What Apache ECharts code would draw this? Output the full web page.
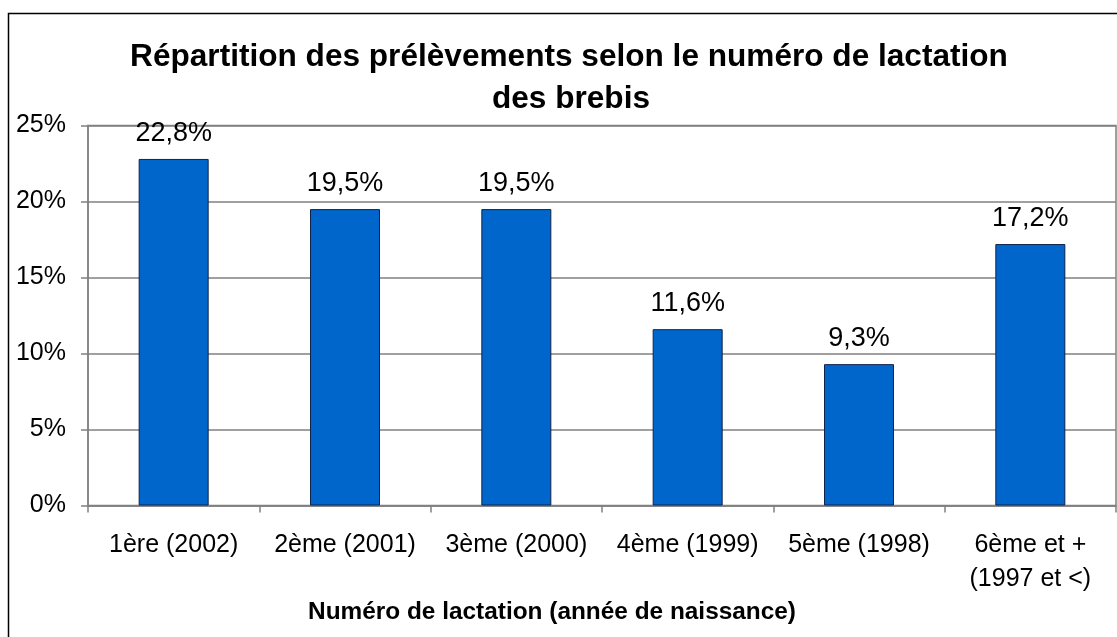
<!DOCTYPE html>
<html>
<head>
<meta charset="utf-8">
<script src="https://cdn.jsdelivr.net/npm/echarts@6/dist/echarts.min.js"></script>
<style>
    html, body { margin: 0; padding: 0; background: #fff; }
    #chart { width: 1117px; height: 637px; }
</style>
</head>
<body>
<div id="chart"></div>
<script>
'use strict';
var categories = ['1ère (2002)', '2ème (2001)', '3ème (2000)', '4ème (1999)', '5ème (1998)', '6ème et +\n(1997 et <)'];
var values = [22.8, 19.5, 19.5, 11.6, 9.3, 17.2];
var yTicks = [0, 5, 10, 15, 20, 25];

var font = 'Liberation Sans, Arial, sans-serif';
var myChart = echarts.init(document.getElementById('chart'));

var option = {
    backgroundColor: '#fff',
    animation: false,
    textStyle: { fontFamily: font, color: '#000' },
    grid: {
        left: 88,
        right: 1,
        top: 125.5,
        bottom: 131.5,
        show: true,
        borderColor: '#808080',
        borderWidth: 1.5,
        containLabel: false
    },
    graphic: [
        {
            type: 'rect',
            shape: { x: 8.5, y: 13.5, width: 1200, height: 700 },
            style: { fill: null, stroke: '#000', lineWidth: 1.5 },
            silent: true
        },
        {
            type: 'text',
            x: 569, y: 57,
            style: {
                text: 'Répartition des prélèvements selon le numéro de lactation',
                font: 'bold 31.6px ' + font,
                fill: '#000', align: 'center', verticalAlign: 'middle'
            }
        },
        {
            type: 'text',
            x: 571, y: 99,
            style: {
                text: 'des brebis',
                font: 'bold 31.6px ' + font,
                fill: '#000', align: 'center', verticalAlign: 'middle'
            }
        },
        {
            type: 'text',
            x: 552, y: 612,
            style: {
                text: 'Numéro de lactation (année de naissance)',
                font: 'bold 24.4px ' + font,
                fill: '#000', align: 'center', verticalAlign: 'middle'
            }
        }
    ],
    xAxis: {
        type: 'category',
        data: categories,
        boundaryGap: true,
        axisLine: { lineStyle: { color: '#808080', width: 1.5 } },
        axisTick: { show: true, length: 7, inside: false, lineStyle: { color: '#808080', width: 1.5 } },
        axisLabel: {
            interval: 0,
            margin: 23,
            fontSize: 25,
            lineHeight: 34,
            color: '#000',
            fontFamily: font
        }
    },
    yAxis: {
        type: 'value',
        min: 0,
        max: 25,
        interval: 5,
        axisLine: { show: true, lineStyle: { color: '#808080', width: 1.5 } },
        axisTick: { show: true, length: 7, inside: false, lineStyle: { color: '#808080', width: 1.5 } },
        splitLine: { show: true, lineStyle: { color: '#808080', width: 1.5 } },
        axisLabel: {
            margin: 22,
            fontSize: 25,
            color: '#000',
            fontFamily: font,
            formatter: function (v) { return v + '%'; }
        }
    },
    series: [
        {
            type: 'bar',
            data: values,
            barWidth: 70,
            itemStyle: {
                color: '#0066CC',
                borderColor: '#10224a',
                borderWidth: 1
            },
            label: {
                show: true,
                position: 'top',
                distance: 12,
                fontSize: 27,
                color: '#000',
                fontFamily: font,
                formatter: function (p) { return p.value.toFixed(1).replace('.', ',') + '%'; }
            }
        }
    ]
};

myChart.setOption(option);
window.onresize = function () {
    myChart.resize();
};
</script>
</body>
</html>
